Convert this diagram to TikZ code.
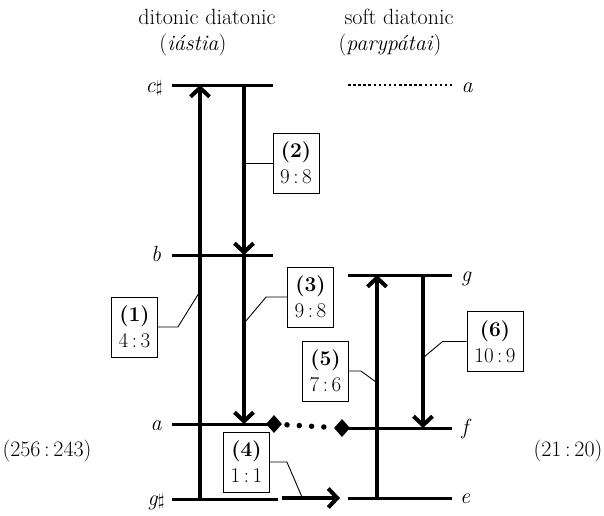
\documentclass[tikz,border=0pt]{standalone}
\usetikzlibrary{arrows.meta,shapes.geometric,calc}
\begin{document}
\begin{tikzpicture}[x=1pt,y=-1pt,
  font=\fontsize{22}{26}\selectfont,
  hline/.style={line width=3pt},
  varrow/.style={line width=4pt,-{Straight Barb[length=9pt,width=19pt]}},
  lbl/.style={draw,line width=0.8pt,align=center,minimum width=46pt,minimum height=60pt,inner sep=1pt,font=\fontsize{21}{26}\selectfont},
  conn/.style={line width=0.9pt},
  note/.style={anchor=base,font=\fontsize{22}{26}\selectfont\itshape},
  dia/.style={diamond,fill=black,inner sep=0pt,minimum width=16pt,minimum height=18pt}]
\useasboundingbox (0,0) rectangle (604,515);

% titles
\node (t1) at (207,17) {ditonic diatonic};
\node (t1b) at (193,45) {(\textit{iástia})};
\node (t2) at (399,17) {soft diatonic};
\node (t2b) at (390,45) {(\textit{parypátai})};

% left horizontal lines
\draw[hline] (172,85) -- (273,85);
\draw[hline] (172,255) -- (273,255);
\draw[hline] (172,424) -- (268,424);
\draw[hline] (172,499) -- (278,499);

% right horizontal lines
\draw[line width=2.5pt,dash pattern=on 2.5pt off 2.6pt] (348,85) -- (452,85);
\draw[hline] (348,275) -- (452,275);
\draw[hline] (342,428) -- (452,428);
\draw[hline] (348,498) -- (452,498);

% note names
\node[note] (nc) at (154,92) {c\kern0.5pt{\upshape\fontsize{16}{16}\selectfont$\sharp$}};
\node[note] (nb) at (156,261) {b};
\node[note] (na) at (156,430) {a};
\node[note] (ng) at (156,505) {g\kern0.5pt{\upshape\fontsize{16}{16}\selectfont$\sharp$}};
\node[note] (ra) at (467,92) {a};
\node[note] (rg) at (466,281) {g};
\node[note] (rf) at (465,434) {f};
\node[note] (re) at (465,503) {e};

% diamonds and dotted link
\node[dia] (d1) at (274,424) {};
\node[dia] (d2) at (342,428) {};
\draw[line width=5.5pt,line cap=round,dash pattern=on 0pt off 12.3pt] ($(d1.center)+(13,0.8)$) -- ($(d2.center)+(-6,-0.3)$);

% vertical arrows
\draw[varrow] (200,499) -- (200,85);
\draw[varrow] (244,85) -- (244,255);
\draw[varrow] (244,255) -- (244,424);
\draw[varrow] (377,498) -- (377,275);
\draw[varrow] (423,275) -- (423,428);
\draw[varrow] (282,498) -- (340,498);

% ratio boxes
\node[lbl] (b1) at (134.5,327) {\textbf{(1)}\\4\,:\,3};
\node[lbl] (b2) at (296,163) {\textbf{(2)}\\9\,:\,8};
\node[lbl] (b3) at (310.5,297) {\textbf{(3)}\\9\,:\,8};
\node[lbl] (b4) at (246.5,462) {\textbf{(4)}\\1\,:\,1};
\node[lbl] (b5) at (325.5,371) {\textbf{(5)}\\7\,:\,6};
\node[lbl,minimum width=56pt] (b6) at (495,341.5) {\textbf{(6)}\\10\,:\,9};

\coordinate (c1) at (199,293);
\coordinate (c2) at (244,163);
\coordinate (c3) at (245,322);
\coordinate (c4) at (302,497);
\coordinate (c5) at (376,382);
\coordinate (c6) at (424,357);
\draw[conn] (b1.east) -- ++(20,0) -- (c1);
\draw[conn] (b2.west) -- (c2);
\draw[conn] (b3.west) -- ++(-21,0) -- (c3);
\draw[conn] (b4.east) -- ++(17,0) -- (c4);
\draw[conn] (b5.east) -- ++(12,0) -- (c5);
\draw[conn] (b6.west) -- ++(-24,0) -- (c6);

% ratios
\node (r1) at (47,451) {(256\,:\,243)};
\node (r2) at (568,451) {(21\,:\,20)};
\end{tikzpicture}
\end{document}
